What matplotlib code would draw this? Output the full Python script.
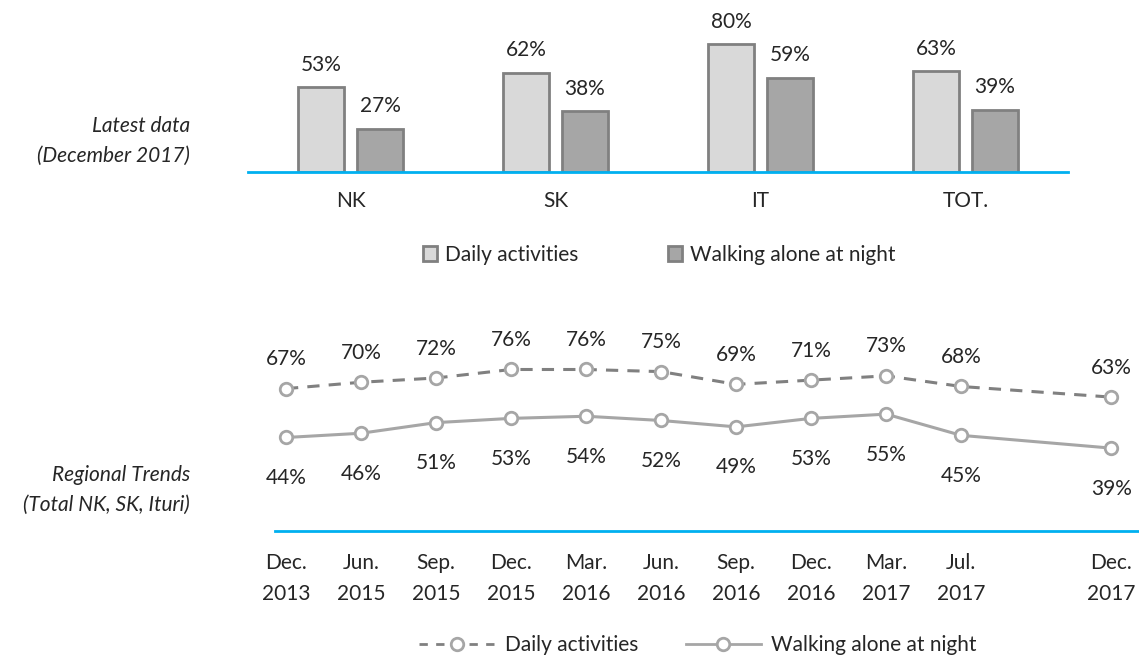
import numpy as np
import matplotlib.pyplot as plt
from matplotlib.patches import Patch
from matplotlib.lines import Line2D

# ------------------------------------------------------------
# Data
# ------------------------------------------------------------
regions = ["NK", "SK", "IT", "TOT."]
latest_daily = [53, 62, 80, 63]
latest_night = [27, 38, 59, 39]

periods = ["Dec.\n2013", "Jun.\n2015", "Sep.\n2015", "Dec.\n2015", "Mar.\n2016",
           "Jun.\n2016", "Sep.\n2016", "Dec.\n2016", "Mar.\n2017", "Jul.\n2017",
           "Dec.\n2017"]
trend_daily = [67, 70, 72, 76, 76, 75, 69, 71, 73, 68, 63]
trend_night = [44, 46, 51, 53, 54, 52, 49, 53, 55, 45, 39]

series_names = ["Daily activities", "Walking alone at night"]

# ------------------------------------------------------------
# Style
# ------------------------------------------------------------
plt.rcParams["font.family"] = ["Lato", "DejaVu Sans"]
TXT = "#262626"
BLUE = "#00b0f0"
LIGHT = "#d9d9d9"
MID = "#a6a6a6"
EDGE = "#808080"
FS = 15

W, H = 1139, 660
fig = plt.figure(figsize=(W / 100, H / 100), dpi=100)


def px_axes(left, top, right, bottom):
    return fig.add_axes([left / W, 1 - bottom / H, (right - left) / W, (bottom - top) / H])


def clean(ax):
    for s in ["top", "right", "left"]:
        ax.spines[s].set_visible(False)
    ax.spines["bottom"].set_color(BLUE)
    ax.spines["bottom"].set_linewidth(2)
    ax.set_yticks([])
    ax.tick_params(axis="x", length=0, labelsize=FS, labelcolor=TXT)


# ------------------------------------------------------------
# Top: latest data bars
# ------------------------------------------------------------
ax1 = px_axes(248, 20, 1068, 172)
clean(ax1)
x = np.arange(len(regions))
bw, off = 0.22, 0.144
b1 = ax1.bar(x - off, latest_daily, bw, color=LIGHT, edgecolor=EDGE, linewidth=2)
b2 = ax1.bar(x + off, latest_night, bw, color=MID, edgecolor=EDGE, linewidth=2)
for bars, vals in [(b1, latest_daily), (b2, latest_night)]:
    for r, v in zip(bars, vals):
        ax1.annotate(f"{v}%", (r.get_x() + r.get_width() / 2, v), xytext=(0, 9),
                     textcoords="offset points", ha="center", va="bottom",
                     fontsize=FS, color=TXT)
ax1.set_xlim(-0.5, len(regions) - 0.5)
ax1.set_ylim(0, 95)
ax1.set_xticks(x)
ax1.set_xticklabels(regions)
ax1.tick_params(axis="x", pad=14)

fig.legend(handles=[Patch(facecolor=LIGHT, edgecolor=EDGE, linewidth=2),
                    Patch(facecolor=MID, edgecolor=EDGE, linewidth=2)],
           labels=series_names, loc="center", bbox_to_anchor=(659 / W, 1 - 255 / H),
           ncol=2, frameon=False, fontsize=FS, handlelength=0.7, handleheight=0.7,
           handletextpad=0.35, columnspacing=4.3, labelcolor=TXT)

# ------------------------------------------------------------
# Bottom: regional trends lines
# ------------------------------------------------------------
ax2 = px_axes(275, 300, 1139, 531)
clean(ax2)
xs = np.arange(len(periods)).astype(float)
xs[-1] += 1  # gap before the last survey
ax2.plot(xs, trend_daily, color=EDGE, linestyle=(0, (4, 3)), linewidth=2.2, zorder=2)
ax2.plot(xs, trend_daily, linestyle="none", marker="o", markersize=9,
         markerfacecolor="white", markeredgecolor=MID, markeredgewidth=2, zorder=3)
ax2.plot(xs, trend_night, color=MID, linewidth=2.2, marker="o", markersize=9,
         markerfacecolor="white", markeredgecolor=MID, markeredgewidth=2, zorder=3)
for xi, v in zip(xs, trend_daily):
    ax2.annotate(f"{v}%", (xi, v), xytext=(0, 14), textcoords="offset points",
                 ha="center", va="bottom", fontsize=FS, color=TXT)
for xi, v in zip(xs, trend_night):
    ax2.annotate(f"{v}%", (xi, v), xytext=(0, -22), textcoords="offset points",
                 ha="center", va="top", fontsize=FS, color=TXT)
ax2.set_xlim(-0.147, 11.37)
ax2.set_ylim(0, 108.7)
ax2.set_xticks(xs)
ax2.set_xticklabels(periods, linespacing=1.7)
ax2.tick_params(axis="x", pad=16)

fig.legend(handles=[Line2D([], [], color=EDGE, linestyle=(0, (3, 3)), linewidth=2,
                           marker="o", markersize=9, markerfacecolor="white",
                           markeredgecolor=MID, markeredgewidth=2),
                    Line2D([], [], color=MID, linewidth=2, marker="o", markersize=9,
                           markerfacecolor="white", markeredgecolor=MID,
                           markeredgewidth=2)],
           labels=series_names, loc="center", bbox_to_anchor=(698 / W, 1 - 645 / H),
           ncol=2, frameon=False, fontsize=FS, handlelength=3.6, handletextpad=0.5,
           columnspacing=2.3, labelcolor=TXT)

# ------------------------------------------------------------
# Row labels
# ------------------------------------------------------------
fig.text(190 / W, 1 - 141 / H, "Latest data\n(December 2017)", ha="right", va="center",
         style="italic", fontsize=FS, color=TXT, linespacing=1.6)
fig.text(190 / W, 1 - 490 / H, "Regional Trends\n(Total NK, SK, Ituri)", ha="right",
         va="center", style="italic", fontsize=FS, color=TXT, linespacing=1.6)

fig.savefig("out.png", dpi=100)
